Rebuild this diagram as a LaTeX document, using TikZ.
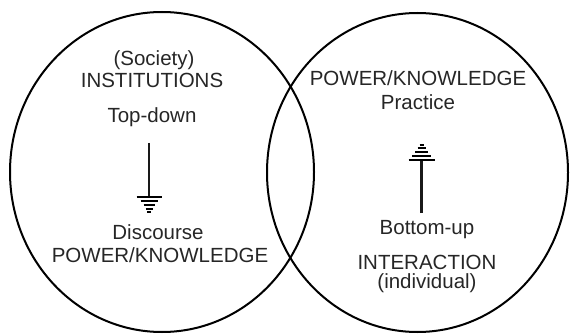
\documentclass[tikz,border=0pt]{standalone}
\usepackage{fontspec}
\setmainfont{Liberation Sans}
\begin{document}
\begin{tikzpicture}[x=1pt,y=-1pt,
  lbl/.style={inner sep=0pt, font=\fontsize{20.5}{24}\selectfont, text=black!85},
  ring/.style={line width=2pt, black},
  shaft/.style={line width=2.3pt, black!90}]
\useasboundingbox (0,0) rectangle (570,334);
\draw[ring] (162,172) ellipse [x radius=152, y radius=160];
\draw[ring] (417.5,172.5) ellipse [x radius=150.5, y radius=159.5];
% left texts
\node[lbl] (soc) at (154,60) {(Society)};
\node[lbl] (inst) at (152,80) {INSTITUTIONS};
\node[lbl] (td) at (152,117) {Top-down};
\node[lbl] (disc) at (158,232) {Discourse};
\node[lbl] (pkl) at (160,255) {POWER/KNOWLEDGE};
% right texts
\node[lbl] (pkr) at (418,78) {POWER/KNOWLEDGE};
\node[lbl] (prac) at (418,102) {Practice};
\node[lbl] (bu) at (427,230) {Bottom-up};
\node[lbl] (inter) at (427,262) {INTERACTION};
\node[lbl] (ind) at (427,283) {(individual)};
% down arrow
\coordinate (ds) at (149,143);
\coordinate (dh) at (149,197);
\draw[shaft] (ds) -- (dh);
\foreach \dy/\w in {0/12.5,4/8.5,8/5.5,12/3.5,15/2}
  \draw[line width=1.5pt] ([xshift=-\w pt,yshift=-\dy pt]dh) -- ([xshift=\w pt,yshift=-\dy pt]dh);
% up arrow
\coordinate (us) at (421.5,213);
\coordinate (uh) at (421.5,160);
\draw[shaft] (us) -- (uh);
\foreach \dy/\w in {0/13,4/9.5,8/6.5,12/4,15/2}
  \draw[line width=1.5pt] ([xshift=-\w pt,yshift=\dy pt]uh) -- ([xshift=\w pt,yshift=\dy pt]uh);
\end{tikzpicture}
\end{document}
